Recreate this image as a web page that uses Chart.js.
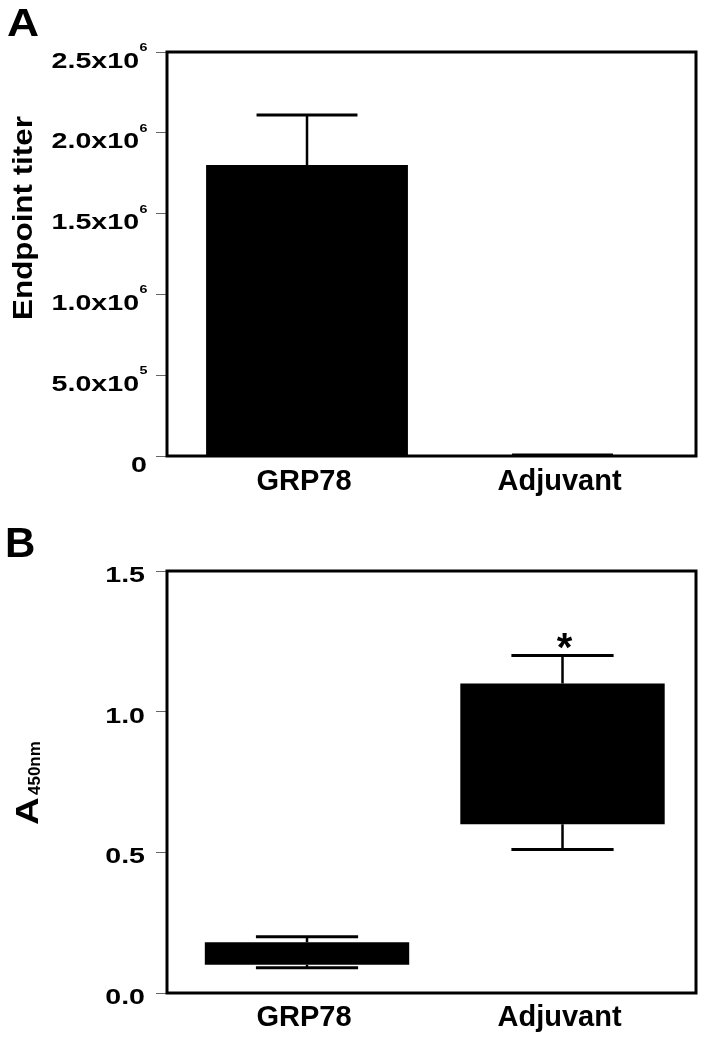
<!DOCTYPE html>
<html>
<head>
<meta charset="utf-8">
<script src="https://cdn.jsdelivr.net/npm/chart.js@4.4.0/dist/chart.umd.min.js"></script>
<style>
  html, body { margin: 0; padding: 0; background: #fff; }
  .panel { position: absolute; left: 0; width: 707px; height: 525px; }
  #boxA { top: 0; }
  #boxB { top: 525px; }
</style>
</head>
<body>
<div class="panel" id="boxA"><canvas id="chartA" width="707" height="525"></canvas></div>
<div class="panel" id="boxB"><canvas id="chartB" width="707" height="525"></canvas></div>
<script>
// --- DATA ---
const groups = ['GRP78', 'Adjuvant'];

// Panel A: endpoint titer, mean + upper error
const titerMean = [1800000, 3000];
const titerErrTop = [2110000, 6000];
const titerTickBase = ['0', '5.0x10', '1.0x10', '1.5x10', '2.0x10', '2.5x10'];
const titerTickExp = ['', '5', '6', '6', '6', '6'];

// Panel B: A450nm, box (low/high) + whiskers
const absBoxLow = [0.10, 0.60];
const absBoxHigh = [0.18, 1.10];
const absWhiskerLow = [0.09, 0.51];
const absWhiskerHigh = [0.20, 1.20];
const absTickLabels = ['0.0', '0.5', '1.0', '1.5'];
const absStars = ['', '*'];

// --- CONFIG ---
const FONT = "'Liberation Sans', Arial, Helvetica, sans-serif";
Chart.defaults.font.family = FONT;

// y tick labels drawn by hand (superscripts + wider glyphs)
function drawTickLabels(chart, bases, exps, rightX, dy) {
    const ctx = chart.ctx;
    const y = chart.scales.y;
    const sx = 1.3;
    ctx.save();
    ctx.fillStyle = '#000';
    ctx.textBaseline = 'alphabetic';
    y.ticks.forEach((t, i) => {
        const py = y.getPixelForValue(t.value);
        const base = bases[i];
        const exp = exps ? exps[i] : '';
        ctx.font = `bold 11px ${FONT}`;
        const expW = exp ? ctx.measureText(exp).width * sx : 0;
        ctx.font = `bold 22px ${FONT}`;
        const baseW = ctx.measureText(base).width * sx;
        const x0 = rightX - expW - baseW;
        ctx.save();
        ctx.translate(x0, py + dy);
        ctx.scale(sx, 1);
        ctx.fillText(base, 0, 0);
        ctx.restore();
        if (exp) {
            ctx.save();
            ctx.font = `bold 11px ${FONT}`;
            ctx.translate(x0 + baseW + 0.5, py - 1);
            ctx.scale(sx, 1);
            ctx.fillText(exp, 0, 0);
            ctx.restore();
        }
    });
    ctx.restore();
}

function drawFrame(chart) {
    const { ctx, chartArea: a } = chart;
    ctx.save();
    ctx.strokeStyle = '#000';
    ctx.lineWidth = 3;
    ctx.strokeRect(a.left, a.top, a.right - a.left, a.bottom - a.top);
    ctx.restore();
}

function drawLetter(ctx, txt, x, y, size, sx) {
    ctx.save();
    ctx.fillStyle = '#000';
    ctx.font = `bold ${size}px ${FONT}`;
    ctx.translate(x, y);
    ctx.scale(sx, 1);
    ctx.fillText(txt, 0, 0);
    ctx.restore();
}

const panelAPlugin = {
    id: 'panelA',
    afterDatasetsDraw(chart) {
        const { ctx } = chart;
        const y = chart.scales.y;
        const meta = chart.getDatasetMeta(0);
        ctx.save();
        ctx.strokeStyle = '#000';
        meta.data.forEach((bar, i) => {
            const top = y.getPixelForValue(titerErrTop[i]);
            const half = bar.width / 4;
            ctx.lineWidth = 2.5;
            ctx.beginPath(); ctx.moveTo(bar.x, bar.y); ctx.lineTo(bar.x, top); ctx.stroke();
            ctx.lineWidth = 3;
            ctx.beginPath(); ctx.moveTo(bar.x - half, top); ctx.lineTo(bar.x + half, top); ctx.stroke();
        });
        ctx.restore();
        drawFrame(chart);
    },
    afterDraw(chart) {
        const ctx = chart.ctx;
        drawTickLabels(chart, titerTickBase, titerTickExp, 147, 15.5);
        drawLetter(ctx, 'A', 7, 36, 39, 1.14);
        // y title
        ctx.save();
        ctx.fillStyle = '#000';
        ctx.font = `bold 28px ${FONT}`;
        ctx.textAlign = 'center';
        ctx.translate(32, 218);
        ctx.rotate(-Math.PI / 2);
        ctx.scale(1.12, 1);
        ctx.fillText('Endpoint titer', 0, 0);
        ctx.restore();
    }
};

const panelBPlugin = {
    id: 'panelB',
    afterDatasetsDraw(chart) {
        const { ctx } = chart;
        const y = chart.scales.y;
        const meta = chart.getDatasetMeta(0);
        ctx.save();
        ctx.strokeStyle = '#000';
        ctx.fillStyle = '#000';
        meta.data.forEach((bar, i) => {
            const hi = y.getPixelForValue(absWhiskerHigh[i]);
            const lo = y.getPixelForValue(absWhiskerLow[i]);
            const boxTop = y.getPixelForValue(absBoxHigh[i]);
            const boxBot = y.getPixelForValue(absBoxLow[i]);
            const half = bar.width / 4;
            ctx.lineWidth = 2.5;
            ctx.beginPath();
            ctx.moveTo(bar.x, boxTop); ctx.lineTo(bar.x, hi);
            ctx.moveTo(bar.x, boxBot); ctx.lineTo(bar.x, lo);
            ctx.stroke();
            ctx.lineWidth = 3;
            ctx.beginPath();
            ctx.moveTo(bar.x - half, hi); ctx.lineTo(bar.x + half, hi);
            ctx.moveTo(bar.x - half, lo); ctx.lineTo(bar.x + half, lo);
            ctx.stroke();
            if (absStars[i]) {
                ctx.font = `bold 40px ${FONT}`;
                ctx.textAlign = 'center';
                ctx.fillText(absStars[i], bar.x + 2, hi + 6);
            }
        });
        ctx.restore();
        drawFrame(chart);
    },
    afterDraw(chart) {
        const ctx = chart.ctx;
        drawTickLabels(chart, absTickLabels, null, 145, 11);
        drawLetter(ctx, 'B', 5, 32, 42, 1);
        // y title: A with subscript 450nm
        ctx.save();
        ctx.fillStyle = '#000';
        ctx.translate(38, 300);
        ctx.rotate(-Math.PI / 2);
        ctx.save();
        ctx.scale(1.2, 1);
        ctx.font = `bold 32px ${FONT}`;
        ctx.fillText('A', 0, 0);
        ctx.restore();
        ctx.font = `bold 17px ${FONT}`;
        ctx.fillText('450nm', 30, 2);
        ctx.restore();
    }
};

function xScale(bottomHeight, pad) {
    return {
        type: 'linear',
        offset: false,
        min: -0.548,
        max: 1.5225,
        grid: { display: false, drawTicks: false, offset: false },
        border: { display: false },
        afterBuildTicks: (s) => { s.ticks = groups.map((g, i) => ({ value: i })); },
        afterFit: (s) => { s.height = bottomHeight; },
        ticks: {
            autoSkip: false,
            maxRotation: 0,
            padding: pad,
            labelOffset: -3,
            color: '#000',
            font: { size: 29, weight: 'bold' },
            callback: (v) => groups[v] ?? ''
        }
    };
}

function yScale(max, step) {
    return {
        min: 0,
        max: max,
        ticks: { stepSize: step, display: false },
        grid: { display: true, drawOnChartArea: false, drawTicks: true, tickLength: 11, color: '#666', lineWidth: 1 },
        border: { display: false },
        afterFit: (s) => { s.width = 167; }
    };
}

// --- CHART A ---
new Chart(document.getElementById('chartA'), {
    type: 'bar',
    data: {
        datasets: [{
            data: groups.map((g, i) => ({ x: i, y: titerMean[i] })),
            backgroundColor: '#000',
            borderWidth: 0,
            barPercentage: 0.79,
            categoryPercentage: 1
        }]
    },
    options: {
        responsive: false,
        animation: false,
        devicePixelRatio: 1,
        layout: { padding: { top: 52, right: 11, left: 0, bottom: 0 } },
        plugins: { legend: { display: false }, tooltip: { enabled: false } },
        scales: { x: xScale(69, 9), y: yScale(2500000, 500000) }
    },
    plugins: [panelAPlugin]
});

// --- CHART B ---
new Chart(document.getElementById('chartB'), {
    type: 'bar',
    data: {
        datasets: [{
            data: groups.map((g, i) => ({ x: i, y: [absBoxLow[i], absBoxHigh[i]] })),
            backgroundColor: '#000',
            borderWidth: 0,
            barPercentage: 0.8,
            categoryPercentage: 1
        }]
    },
    options: {
        responsive: false,
        animation: false,
        devicePixelRatio: 1,
        layout: { padding: { top: 46, right: 11, left: 0, bottom: 0 } },
        plugins: { legend: { display: false }, tooltip: { enabled: false } },
        scales: { x: xScale(57, 8), y: yScale(1.5, 0.5) }
    },
    plugins: [panelBPlugin]
});
</script>
</body>
</html>
